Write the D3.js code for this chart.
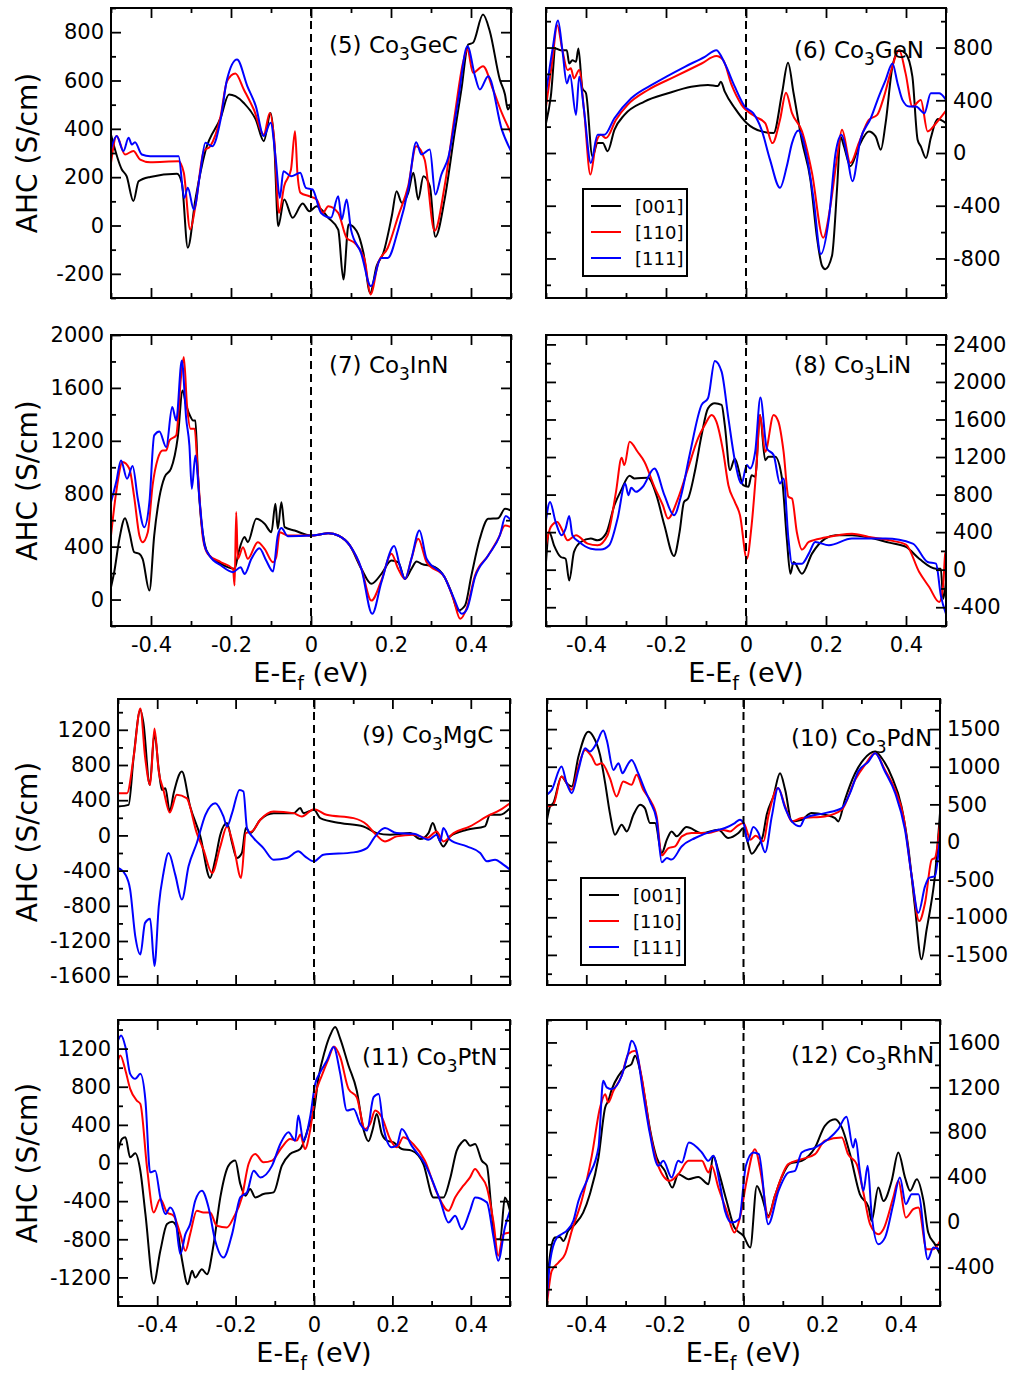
<!DOCTYPE html>
<html>
<head>
<meta charset="utf-8">
<script src="https://cdn.jsdelivr.net/npm/d3@7"></script>
<style>
  body { margin: 0; background: #fff; }
  svg text { font-family: "DejaVu Sans", "Liberation Sans", Arial, sans-serif; fill: #000; }
</style>
</head>
<body>
<svg id="chart" width="1021" height="1373"></svg>
<script>
(function(){

// ---- data: [E-Ef (eV), AHC (S/cm)] ----
const geC001 = [[-0.5,376],[-0.473,232],[-0.461,204],[-0.444,101],[-0.431,183],[-0.402,201],[-0.335,214],[-0.323,177],[-0.308,-92],[-0.289,108],[-0.264,308],[-0.226,445],[-0.205,542],[-0.189,535],[-0.168,507],[-0.138,438],[-0.118,349],[-0.101,466],[-0.092,342],[-0.082,-3],[-0.067,108],[-0.046,32],[-0.021,91],[-0.004,59],[0.014,80],[0.043,32],[0.068,-17],[0.081,-223],[0.094,4],[0.114,-23],[0.131,-113],[0.148,-279],[0.164,-168],[0.181,-113],[0.202,39],[0.214,142],[0.227,94],[0.243,135],[0.256,218],[0.268,108],[0.281,204],[0.297,163],[0.311,-47],[0.334,108],[0.359,383],[0.376,563],[0.393,749],[0.405,756],[0.43,873],[0.447,804],[0.472,604],[0.485,542],[0.492,480],[0.5,507]];
const geC110 = [[-0.5,259],[-0.486,370],[-0.465,294],[-0.444,308],[-0.427,273],[-0.402,262],[-0.331,266],[-0.318,218],[-0.302,-17],[-0.289,80],[-0.268,308],[-0.252,328],[-0.226,452],[-0.21,597],[-0.189,629],[-0.168,563],[-0.143,480],[-0.118,376],[-0.103,466],[-0.092,356],[-0.08,52],[-0.067,163],[-0.05,232],[-0.04,390],[-0.034,218],[-0.026,135],[-0.004,121],[0.014,108],[0.03,52],[0.043,80],[0.068,52],[0.089,-51],[0.109,-72],[0.134,-141],[0.149,-285],[0.168,-155],[0.192,-92],[0.218,39],[0.243,163],[0.263,328],[0.284,273],[0.309,-23],[0.334,163],[0.359,452],[0.38,673],[0.391,728],[0.405,632],[0.43,659],[0.455,563],[0.477,466],[0.5,383]];
const geC111 = [[-0.5,314],[-0.486,370],[-0.469,308],[-0.456,363],[-0.448,335],[-0.44,345],[-0.423,294],[-0.402,287],[-0.331,287],[-0.317,114],[-0.308,156],[-0.293,66],[-0.277,218],[-0.264,342],[-0.247,328],[-0.226,438],[-0.21,604],[-0.185,687],[-0.159,576],[-0.138,494],[-0.118,370],[-0.101,425],[-0.088,273],[-0.078,114],[-0.069,225],[-0.05,204],[-0.027,218],[-0.013,156],[0.004,149],[0.025,52],[0.05,32],[0.068,121],[0.077,25],[0.089,108],[0.1,-17],[0.125,-113],[0.15,-251],[0.175,-134],[0.192,-134],[0.218,-17],[0.243,149],[0.263,345],[0.276,294],[0.297,314],[0.311,128],[0.326,211],[0.343,280],[0.368,521],[0.391,742],[0.41,618],[0.422,563],[0.443,618],[0.477,397],[0.5,308]];

const geN001 = [[-0.5,226],[-0.488,428],[-0.476,793],[-0.463,780],[-0.448,780],[-0.442,679],[-0.434,704],[-0.425,692],[-0.419,793],[-0.409,491],[-0.4,453],[-0.384,-25],[-0.371,75],[-0.358,75],[-0.346,13],[-0.329,176],[-0.304,289],[-0.254,390],[-0.195,453],[-0.137,503],[-0.095,516],[-0.07,508],[-0.063,541],[-0.053,465],[-0.028,340],[0.002,226],[0.039,164],[0.069,151],[0.09,453],[0.105,684],[0.119,453],[0.14,88],[0.161,-201],[0.178,-654],[0.19,-855],[0.198,-881],[0.215,-780],[0.228,-252],[0.236,126],[0.245,50],[0.261,-101],[0.282,50],[0.307,164],[0.324,126],[0.337,25],[0.349,226],[0.366,654],[0.383,780],[0.399,755],[0.416,579],[0.429,101],[0.437,50],[0.45,-38],[0.462,113],[0.479,257],[0.5,226]];
const geN110 = [[-0.5,352],[-0.484,704],[-0.472,969],[-0.459,780],[-0.446,629],[-0.438,642],[-0.43,566],[-0.417,629],[-0.405,327],[-0.389,-164],[-0.375,75],[-0.363,138],[-0.35,113],[-0.325,252],[-0.296,365],[-0.245,478],[-0.178,579],[-0.111,679],[-0.074,735],[-0.057,704],[-0.036,516],[-0.011,365],[0.023,277],[0.048,226],[0.066,75],[0.085,252],[0.1,458],[0.115,302],[0.14,164],[0.165,-151],[0.193,-642],[0.211,-403],[0.228,-25],[0.24,176],[0.261,-75],[0.282,75],[0.307,252],[0.328,289],[0.345,428],[0.362,616],[0.383,780],[0.399,604],[0.416,352],[0.437,403],[0.454,164],[0.475,226],[0.5,322]];
const geN111 = [[-0.5,453],[-0.484,780],[-0.47,1006],[-0.459,780],[-0.448,528],[-0.44,591],[-0.425,289],[-0.417,579],[-0.405,327],[-0.388,-75],[-0.371,138],[-0.354,138],[-0.329,264],[-0.287,415],[-0.229,528],[-0.153,654],[-0.103,730],[-0.074,780],[-0.053,679],[-0.028,503],[-0.003,352],[0.018,302],[0.039,176],[0.06,-50],[0.085,-264],[0.102,-101],[0.115,75],[0.131,171],[0.152,-25],[0.169,-352],[0.187,-767],[0.207,-503],[0.224,0],[0.239,138],[0.253,-25],[0.266,-214],[0.286,101],[0.312,264],[0.332,428],[0.349,553],[0.366,679],[0.379,528],[0.391,403],[0.408,352],[0.425,352],[0.446,302],[0.462,453],[0.483,453],[0.5,403]];

const inN001 = [[-0.5,93],[-0.492,207],[-0.479,459],[-0.465,615],[-0.454,509],[-0.442,358],[-0.429,346],[-0.421,308],[-0.404,68],[-0.392,484],[-0.379,774],[-0.366,926],[-0.35,989],[-0.333,1228],[-0.321,1581],[-0.312,1468],[-0.301,1380],[-0.295,1354],[-0.289,1354],[-0.283,963],[-0.275,610],[-0.266,421],[-0.254,333],[-0.225,270],[-0.191,232],[-0.181,358],[-0.166,472],[-0.158,434],[-0.137,610],[-0.116,573],[-0.099,509],[-0.089,724],[-0.083,535],[-0.074,736],[-0.066,547],[-0.041,522],[0,484],[0.018,489],[0.043,502],[0.068,484],[0.097,409],[0.126,232],[0.151,119],[0.176,194],[0.201,295],[0.218,282],[0.235,156],[0.251,232],[0.264,288],[0.276,270],[0.31,245],[0.334,169],[0.351,55],[0.368,-83],[0.385,-45],[0.401,182],[0.422,459],[0.443,610],[0.468,615],[0.485,686],[0.5,673]];
const inN110 = [[-0.5,484],[-0.487,812],[-0.471,1039],[-0.454,989],[-0.442,774],[-0.429,484],[-0.421,434],[-0.408,509],[-0.396,863],[-0.383,1064],[-0.371,1127],[-0.362,1127],[-0.354,1203],[-0.337,1241],[-0.325,1682],[-0.318,1834],[-0.31,1468],[-0.301,1291],[-0.291,1291],[-0.283,963],[-0.27,459],[-0.258,346],[-0.225,282],[-0.195,232],[-0.191,106],[-0.187,661],[-0.183,308],[-0.17,396],[-0.158,308],[-0.133,434],[-0.116,383],[-0.095,282],[-0.087,320],[-0.078,509],[-0.058,484],[0,484],[0.018,489],[0.043,502],[0.068,484],[0.097,409],[0.126,232],[0.151,-8],[0.176,144],[0.201,346],[0.218,232],[0.235,156],[0.251,308],[0.268,459],[0.289,282],[0.334,169],[0.356,5],[0.373,-146],[0.39,-58],[0.41,182],[0.443,333],[0.468,459],[0.485,560],[0.5,547]];
const inN111 = [[-0.5,736],[-0.487,888],[-0.475,1052],[-0.46,913],[-0.446,1009],[-0.433,762],[-0.417,547],[-0.404,736],[-0.392,1241],[-0.379,1271],[-0.362,1153],[-0.347,1455],[-0.337,1354],[-0.323,1808],[-0.312,1367],[-0.304,1165],[-0.298,837],[-0.289,1089],[-0.279,762],[-0.266,409],[-0.254,333],[-0.225,257],[-0.195,207],[-0.176,245],[-0.166,194],[-0.149,308],[-0.129,388],[-0.112,295],[-0.095,212],[-0.083,484],[-0.074,540],[-0.058,479],[0,484],[0.018,489],[0.043,502],[0.068,484],[0.097,409],[0.126,232],[0.153,-108],[0.176,131],[0.208,404],[0.222,257],[0.235,156],[0.251,308],[0.271,522],[0.289,308],[0.334,169],[0.356,18],[0.377,-108],[0.39,-71],[0.41,169],[0.443,333],[0.472,484],[0.487,631],[0.5,598]];

const liN001 = [[-0.5,82],[-0.492,402],[-0.48,260],[-0.463,135],[-0.451,117],[-0.442,-114],[-0.43,189],[-0.413,295],[-0.388,331],[-0.371,313],[-0.35,384],[-0.329,687],[-0.312,847],[-0.291,1000],[-0.279,972],[-0.245,979],[-0.224,794],[-0.204,473],[-0.18,146],[-0.166,402],[-0.155,722],[-0.145,758],[-0.128,1043],[-0.111,1434],[-0.095,1719],[-0.078,1772],[-0.061,1755],[-0.053,1541],[-0.04,1061],[-0.028,1185],[-0.007,900],[0.006,883],[0.014,1007],[0.023,989],[0.035,1648],[0.048,1167],[0.056,1203],[0.073,1203],[0.09,972],[0.102,331],[0.111,-43],[0.119,82],[0.14,-43],[0.165,171],[0.198,331],[0.224,367],[0.265,367],[0.307,342],[0.358,288],[0.4,242],[0.433,117],[0.475,11],[0.487,11],[0.493,-310],[0.5,-132]];
const liN110 = [[-0.5,260],[-0.488,456],[-0.472,509],[-0.459,420],[-0.446,313],[-0.425,367],[-0.396,278],[-0.371,260],[-0.346,367],[-0.325,829],[-0.311,1192],[-0.304,1114],[-0.291,1363],[-0.271,1256],[-0.254,1150],[-0.229,883],[-0.208,687],[-0.195,545],[-0.17,758],[-0.145,1078],[-0.12,1399],[-0.103,1541],[-0.086,1648],[-0.074,1577],[-0.057,1256],[-0.044,900],[-0.028,722],[-0.015,580],[0.002,117],[0.014,473],[0.027,1150],[0.035,1648],[0.048,1256],[0.069,1648],[0.081,1577],[0.094,1256],[0.106,776],[0.115,758],[0.127,402],[0.14,214],[0.157,295],[0.198,342],[0.265,384],[0.307,349],[0.358,313],[0.4,267],[0.433,-25],[0.458,-185],[0.483,-345],[0.493,-167],[0.498,171],[0.5,189]];
const liN111 = [[-0.5,527],[-0.49,722],[-0.476,509],[-0.461,367],[-0.451,438],[-0.442,573],[-0.434,367],[-0.417,295],[-0.388,224],[-0.363,214],[-0.342,260],[-0.321,545],[-0.302,918],[-0.294,794],[-0.287,872],[-0.275,829],[-0.258,883],[-0.229,1078],[-0.204,794],[-0.18,580],[-0.162,794],[-0.141,1221],[-0.111,1755],[-0.095,1826],[-0.078,2224],[-0.061,2110],[-0.044,1612],[-0.028,1167],[-0.011,918],[0.002,1114],[0.01,1078],[0.023,1256],[0.036,1833],[0.052,1292],[0.069,1221],[0.085,918],[0.094,972],[0.106,331],[0.115,64],[0.14,64],[0.157,171],[0.173,295],[0.207,260],[0.265,331],[0.349,331],[0.417,278],[0.454,82],[0.475,64],[0.487,-274],[0.5,-470]];

const mgC001 = [[-0.5,329],[-0.473,347],[-0.46,895],[-0.443,1424],[-0.435,1273],[-0.419,574],[-0.407,1160],[-0.396,744],[-0.388,517],[-0.379,536],[-0.368,272],[-0.358,480],[-0.337,725],[-0.316,329],[-0.29,-11],[-0.265,-483],[-0.252,-276],[-0.239,8],[-0.222,140],[-0.209,-87],[-0.197,-257],[-0.184,-200],[-0.174,83],[-0.163,26],[-0.137,178],[-0.103,253],[-0.052,253],[-0.035,310],[-0.027,253],[0,291],[0.016,196],[0.067,140],[0.126,102],[0.16,26],[0.194,8],[0.245,26],[0.271,-42],[0.292,26],[0.303,140],[0.313,26],[0.33,-125],[0.347,-11],[0.39,64],[0.436,102],[0.449,234],[0.475,234],[0.5,310]];
const mgC110 = [[-0.5,480],[-0.477,480],[-0.46,895],[-0.443,1443],[-0.431,895],[-0.418,574],[-0.407,1216],[-0.396,725],[-0.384,517],[-0.368,261],[-0.35,461],[-0.325,423],[-0.299,26],[-0.282,-162],[-0.26,-427],[-0.239,-125],[-0.222,102],[-0.205,-125],[-0.186,-483],[-0.174,26],[-0.158,45],[-0.137,178],[-0.103,272],[-0.052,253],[-0.031,215],[0,298],[0.032,234],[0.101,196],[0.135,121],[0.156,19],[0.181,-68],[0.211,-11],[0.254,8],[0.288,-30],[0.313,45],[0.33,-68],[0.356,26],[0.398,102],[0.441,215],[0.475,291],[0.5,366]];
const mgC111 = [[-0.5,-370],[-0.481,-446],[-0.469,-616],[-0.456,-1144],[-0.443,-1352],[-0.431,-994],[-0.418,-948],[-0.407,-1484],[-0.396,-805],[-0.384,-427],[-0.371,-200],[-0.354,-446],[-0.337,-729],[-0.32,-351],[-0.299,-87],[-0.277,234],[-0.252,366],[-0.231,215],[-0.222,102],[-0.209,253],[-0.19,517],[-0.18,499],[-0.171,83],[-0.154,-30],[-0.129,-144],[-0.103,-276],[-0.069,-257],[-0.04,-181],[-0.023,-238],[0,-295],[0.024,-219],[0.101,-193],[0.135,-144],[0.156,-11],[0.181,83],[0.211,26],[0.254,19],[0.292,-49],[0.313,8],[0.322,-68],[0.33,83],[0.347,-49],[0.39,-125],[0.424,-200],[0.441,-295],[0.462,-276],[0.483,-332],[0.5,-389]];

const pdN001 = [[-0.5,296],[-0.492,473],[-0.484,517],[-0.463,870],[-0.45,782],[-0.437,738],[-0.42,1135],[-0.395,1466],[-0.382,1400],[-0.365,1157],[-0.352,782],[-0.34,384],[-0.327,97],[-0.31,230],[-0.297,141],[-0.28,362],[-0.263,495],[-0.251,451],[-0.238,252],[-0.225,252],[-0.208,-146],[-0.195,31],[-0.183,141],[-0.17,75],[-0.145,199],[-0.106,119],[-0.064,163],[-0.039,53],[-0.013,119],[0,186],[0.01,9],[0.021,-155],[0.036,-57],[0.049,75],[0.059,362],[0.076,605],[0.093,914],[0.106,693],[0.123,274],[0.148,296],[0.173,384],[0.207,362],[0.233,318],[0.241,274],[0.258,561],[0.284,914],[0.305,1091],[0.335,1201],[0.352,1113],[0.377,870],[0.402,473],[0.419,-57],[0.436,-852],[0.453,-1559],[0.466,-1162],[0.475,-897],[0.487,-455],[0.5,384]];
const pdN110 = [[-0.5,473],[-0.484,495],[-0.463,870],[-0.437,693],[-0.42,1003],[-0.403,1224],[-0.386,1135],[-0.374,1025],[-0.361,1047],[-0.34,848],[-0.323,605],[-0.306,804],[-0.285,760],[-0.272,892],[-0.255,693],[-0.238,561],[-0.221,340],[-0.208,-177],[-0.191,-80],[-0.174,-57],[-0.157,75],[-0.132,119],[-0.089,119],[-0.056,163],[-0.034,141],[-0.017,208],[0,252],[0.018,31],[0.031,84],[0.051,9],[0.063,340],[0.088,716],[0.106,473],[0.123,274],[0.148,318],[0.207,340],[0.25,428],[0.284,826],[0.309,1025],[0.335,1179],[0.36,958],[0.386,693],[0.407,340],[0.428,-455],[0.447,-1051],[0.462,-808],[0.479,-234],[0.487,-212],[0.5,252]];
const pdN111 = [[-0.5,627],[-0.488,693],[-0.463,1003],[-0.45,782],[-0.437,649],[-0.42,958],[-0.403,1246],[-0.391,1201],[-0.374,1312],[-0.357,1480],[-0.348,1356],[-0.331,958],[-0.318,1047],[-0.308,914],[-0.295,1025],[-0.285,1091],[-0.268,914],[-0.251,693],[-0.238,539],[-0.221,296],[-0.208,-269],[-0.195,-212],[-0.183,-234],[-0.157,-57],[-0.123,53],[-0.081,141],[-0.047,186],[-0.022,252],[-0.009,296],[0,252],[0.011,9],[0.025,199],[0.038,119],[0.055,-137],[0.072,340],[0.088,716],[0.106,451],[0.123,274],[0.144,208],[0.156,318],[0.207,384],[0.25,451],[0.271,649],[0.292,936],[0.318,1069],[0.335,1179],[0.36,936],[0.386,649],[0.411,163],[0.428,-455],[0.445,-941],[0.462,-587],[0.472,-477],[0.487,-455],[0.5,75]];

const ptN001 = [[-0.5,130],[-0.49,252],[-0.481,270],[-0.469,60],[-0.456,102],[-0.443,-81],[-0.43,-536],[-0.409,-1265],[-0.392,-921],[-0.375,-641],[-0.362,-617],[-0.35,-676],[-0.337,-1009],[-0.322,-1272],[-0.311,-1131],[-0.303,-1202],[-0.286,-1114],[-0.273,-1167],[-0.256,-851],[-0.239,-361],[-0.218,-28],[-0.201,25],[-0.188,-221],[-0.175,-343],[-0.163,-273],[-0.15,-361],[-0.129,-326],[-0.103,-308],[-0.082,-28],[-0.061,95],[-0.035,147],[-0.014,375],[0,550],[0.011,883],[0.028,1181],[0.041,1338],[0.054,1426],[0.067,1303],[0.088,1023],[0.109,760],[0.126,357],[0.139,228],[0.15,357],[0.16,515],[0.173,305],[0.186,235],[0.203,217],[0.224,147],[0.249,130],[0.279,-11],[0.305,-361],[0.33,-361],[0.347,-168],[0.364,130],[0.377,217],[0.385,242],[0.398,182],[0.411,200],[0.428,25],[0.441,-28],[0.453,-501],[0.462,-800],[0.475,-800],[0.487,-361],[0.5,-500]];
const ptN110 = [[-0.5,1075],[-0.494,1128],[-0.481,970],[-0.469,778],[-0.452,655],[-0.443,620],[-0.426,-46],[-0.409,-518],[-0.392,-378],[-0.375,-518],[-0.358,-553],[-0.341,-746],[-0.328,-921],[-0.316,-746],[-0.299,-501],[-0.282,-518],[-0.265,-518],[-0.248,-659],[-0.222,-676],[-0.205,-571],[-0.184,-361],[-0.167,-11],[-0.15,95],[-0.129,7],[-0.107,25],[-0.082,165],[-0.061,252],[-0.044,235],[-0.035,298],[-0.023,147],[-0.01,340],[0.003,708],[0.02,918],[0.037,1093],[0.051,1223],[0.067,1110],[0.088,778],[0.109,690],[0.13,357],[0.143,410],[0.156,550],[0.173,480],[0.194,252],[0.211,165],[0.228,270],[0.253,200],[0.283,25],[0.313,-308],[0.343,-501],[0.36,-361],[0.381,-238],[0.398,-151],[0.411,-63],[0.424,-133],[0.441,-256],[0.458,-624],[0.47,-974],[0.483,-746],[0.5,-729]];
const ptN111 = [[-0.5,1286],[-0.492,1338],[-0.481,1216],[-0.469,935],[-0.456,883],[-0.443,935],[-0.43,655],[-0.418,-98],[-0.405,-81],[-0.392,-361],[-0.379,-536],[-0.367,-466],[-0.354,-571],[-0.341,-956],[-0.328,-746],[-0.316,-641],[-0.303,-396],[-0.286,-291],[-0.269,-466],[-0.252,-816],[-0.231,-991],[-0.209,-746],[-0.188,-361],[-0.171,-308],[-0.154,-81],[-0.137,-151],[-0.107,-28],[-0.086,200],[-0.065,322],[-0.048,235],[-0.04,497],[-0.027,235],[-0.01,480],[0.003,830],[0.016,953],[0.033,1075],[0.05,1216],[0.067,935],[0.084,550],[0.101,567],[0.118,410],[0.135,340],[0.152,690],[0.165,725],[0.177,375],[0.198,165],[0.211,182],[0.224,357],[0.249,182],[0.283,-11],[0.322,-396],[0.343,-624],[0.36,-553],[0.377,-694],[0.398,-501],[0.411,-361],[0.441,-413],[0.458,-781],[0.47,-1026],[0.487,-676],[0.5,-501]];

const rhN001 = [[-0.5,-586],[-0.492,-288],[-0.48,-140],[-0.467,-134],[-0.458,-170],[-0.446,-80],[-0.429,-21],[-0.408,83],[-0.391,247],[-0.369,574],[-0.352,1020],[-0.344,1080],[-0.335,1184],[-0.318,1303],[-0.3,1377],[-0.285,1407],[-0.276,1481],[-0.263,1347],[-0.251,1109],[-0.238,827],[-0.221,574],[-0.2,455],[-0.181,306],[-0.166,425],[-0.14,381],[-0.115,401],[-0.089,336],[-0.077,589],[-0.064,455],[-0.043,187],[-0.023,-51],[0,-125],[0.017,-229],[0.034,321],[0.046,232],[0.063,54],[0.08,232],[0.097,396],[0.118,520],[0.148,544],[0.182,663],[0.207,857],[0.233,916],[0.25,842],[0.271,604],[0.296,247],[0.318,134],[0.326,9],[0.343,306],[0.356,187],[0.377,366],[0.394,619],[0.411,396],[0.424,277],[0.441,381],[0.458,187],[0.47,-95],[0.487,-199],[0.5,-288]];
const rhN110 = [[-0.5,-735],[-0.488,-437],[-0.471,-363],[-0.454,-288],[-0.437,-80],[-0.412,187],[-0.386,589],[-0.365,1020],[-0.352,1139],[-0.344,1065],[-0.331,1169],[-0.31,1303],[-0.293,1496],[-0.276,1526],[-0.259,1288],[-0.238,812],[-0.217,500],[-0.187,366],[-0.166,425],[-0.14,544],[-0.106,544],[-0.089,440],[-0.081,500],[-0.064,306],[-0.043,98],[-0.023,-95],[-0.009,39],[0.008,366],[0.029,648],[0.046,396],[0.063,39],[0.08,232],[0.114,515],[0.148,559],[0.182,604],[0.207,723],[0.25,752],[0.266,604],[0.288,515],[0.305,262],[0.322,-21],[0.343,-110],[0.356,-65],[0.381,217],[0.394,366],[0.413,39],[0.432,113],[0.445,128],[0.466,-244],[0.483,-244],[0.5,-170]];
const rhN111 = [[-0.5,-675],[-0.492,-348],[-0.475,-140],[-0.463,-110],[-0.45,-80],[-0.433,9],[-0.42,187],[-0.395,396],[-0.369,663],[-0.357,1258],[-0.348,1199],[-0.335,1184],[-0.31,1303],[-0.293,1511],[-0.285,1615],[-0.272,1526],[-0.255,1139],[-0.238,782],[-0.217,500],[-0.204,544],[-0.183,396],[-0.166,544],[-0.157,529],[-0.139,708],[-0.106,619],[-0.089,544],[-0.077,589],[-0.06,336],[-0.047,98],[-0.03,-6],[-0.011,24],[0.006,500],[0.025,619],[0.039,604],[0.063,-21],[0.089,277],[0.114,440],[0.131,455],[0.148,619],[0.182,663],[0.216,738],[0.241,827],[0.262,937],[0.279,663],[0.285,738],[0.296,455],[0.305,277],[0.316,500],[0.326,68],[0.343,-199],[0.36,-140],[0.381,158],[0.398,396],[0.413,158],[0.428,247],[0.445,247],[0.469,-333],[0.483,-229],[0.5,-244]];

// tick labels
const xTicks = [-0.4, -0.2, 0, 0.2, 0.4];
const xMinor = [-0.5, -0.3, -0.1, 0.1, 0.3, 0.5];
const ticks5 = [-200, 0, 200, 400, 600, 800];
const ticks6 = [-800, -400, 0, 400, 800];
const ticks7 = [0, 400, 800, 1200, 1600, 2000];
const ticks8 = [-400, 0, 400, 800, 1200, 1600, 2000, 2400];
const ticks9 = [-1600, -1200, -800, -400, 0, 400, 800, 1200];
const ticks10 = [-1500, -1000, -500, 0, 500, 1000, 1500];
const ticks11 = [-1200, -800, -400, 0, 400, 800, 1200];
const ticks12 = [-400, 0, 400, 800, 1200, 1600];

const seriesNames = ["[001]", "[110]", "[111]"];
const seriesColors = ["#000000", "#ff0000", "#0000ff"];

// panel layout
const panels = [
  { num: "(5)", el: "GeC", curves: [geC001, geC110, geC111], box: [111, 8, 511, 298],   yDom: [-300, 900],   yTicks: ticks5,  side: "left",  xLab: false, tx: 329, ty: 53 },
  { num: "(6)", el: "GeN", curves: [geN001, geN110, geN111], box: [546, 8, 946, 298],   yDom: [-1100, 1100], yTicks: ticks6,  side: "right", xLab: false, tx: 794, ty: 58, legend: [583, 189] },
  { num: "(7)", el: "InN", curves: [inN001, inN110, inN111], box: [111, 335, 511, 626], yDom: [-200, 2000],  yTicks: ticks7,  side: "left",  xLab: true,  tx: 329, ty: 373 },
  { num: "(8)", el: "LiN", curves: [liN001, liN110, liN111], box: [546, 335, 946, 626], yDom: [-600, 2500],  yTicks: ticks8,  side: "right", xLab: true,  tx: 794, ty: 373 },
  { num: "(9)", el: "MgC", curves: [mgC001, mgC110, mgC111], box: [118, 699, 510, 985], yDom: [-1700, 1550], yTicks: ticks9,  side: "left",  xLab: false, tx: 362, ty: 743 },
  { num: "(10)", el: "PdN", curves: [pdN001, pdN110, pdN111], box: [547, 699, 940, 985], yDom: [-1900, 1900], yTicks: ticks10, side: "right", xLab: false, tx: 791, ty: 746, legend: [581, 878] },
  { num: "(11)", el: "PtN", curves: [ptN001, ptN110, ptN111], box: [118, 1020, 510, 1306], yDom: [-1500, 1500], yTicks: ticks11, side: "left",  xLab: true,  tx: 362, ty: 1065 },
  { num: "(12)", el: "RhN", curves: [rhN001, rhN110, rhN111], box: [547, 1020, 940, 1306], yDom: [-750, 1800],  yTicks: ticks12, side: "right", xLab: true,  tx: 791, ty: 1063 }
];

const svg = d3.select("#chart");
const FONT = '"DejaVu Sans", "Liberation Sans", Arial, sans-serif';
const MAJ = 10, MIN = 5;

function styleAxis(g) {
  g.select(".domain").remove();
  g.selectAll(".tick line").attr("stroke", "#000").attr("stroke-width", 1.8);
  g.attr("font-family", FONT).attr("font-size", 21);
  g.selectAll(".tick text").attr("fill", "#000");
}

const fmtX = d => d === 0 ? "0" : d.toFixed(1);

panels.forEach((p, i) => {
  const [x0, y0, x1, y1] = p.box;
  const x = d3.scaleLinear().domain([-0.5, 0.5]).range([x0, x1]);
  const y = d3.scaleLinear().domain(p.yDom).range([y1, y0]);
  const g = svg.append("g");

  const step = p.yTicks[1] - p.yTicks[0];
  const half = step / 2;
  const yMinor = d3.range(Math.ceil(p.yDom[0] / half) * half, p.yDom[1] + 1e-9, half)
    .filter(v => !p.yTicks.some(t => Math.abs(t - v) < 1e-6));

  // curves
  const clipId = "clip" + i;
  svg.append("clipPath").attr("id", clipId)
    .append("rect").attr("x", x0).attr("y", y0).attr("width", x1 - x0).attr("height", y1 - y0);

  const line = d3.line().curve(d3.curveMonotoneX).x(d => x(d[0])).y(d => y(d[1]));
  p.curves.forEach((c, k) => {
    g.append("path")
      .attr("d", line(c))
      .attr("fill", "none")
      .attr("stroke", seriesColors[k])
      .attr("stroke-width", 2)
      .attr("stroke-linejoin", "round")
      .attr("clip-path", `url(#${clipId})`);
  });

  // zero line
  g.append("line")
    .attr("x1", x(0)).attr("x2", x(0))
    .attr("y1", y0).attr("y2", y1)
    .attr("stroke", "#000").attr("stroke-width", 2)
    .attr("stroke-dasharray", "8,5");

  // y axes
  const left = p.side === "left";
  const labelX = left ? x0 : x1;
  const mirrorX = left ? x1 : x0;
  const axLab = () => left ? d3.axisLeft(y) : d3.axisRight(y);
  const axMir = () => left ? d3.axisRight(y) : d3.axisLeft(y);

  g.append("g").attr("transform", `translate(${labelX},0)`)
    .call(axLab().tickValues(p.yTicks).tickSize(-MAJ).tickPadding(7).tickFormat(d => String(d)))
    .call(styleAxis);
  g.append("g").attr("transform", `translate(${labelX},0)`)
    .call(axLab().tickValues(yMinor).tickSize(-MIN).tickFormat(""))
    .call(styleAxis);
  g.append("g").attr("transform", `translate(${mirrorX},0)`)
    .call(axMir().tickValues(p.yTicks).tickSize(-MAJ).tickFormat(""))
    .call(styleAxis);
  g.append("g").attr("transform", `translate(${mirrorX},0)`)
    .call(axMir().tickValues(yMinor).tickSize(-MIN).tickFormat(""))
    .call(styleAxis);

  // x axes
  g.append("g").attr("transform", `translate(0,${y1})`)
    .call(d3.axisBottom(x).tickValues(xTicks).tickSize(-MAJ).tickPadding(11).tickFormat(p.xLab ? fmtX : ""))
    .call(styleAxis);
  g.append("g").attr("transform", `translate(0,${y1})`)
    .call(d3.axisBottom(x).tickValues(xMinor).tickSize(-MIN).tickFormat(""))
    .call(styleAxis);
  g.append("g").attr("transform", `translate(0,${y0})`)
    .call(d3.axisTop(x).tickValues(xTicks).tickSize(-MAJ).tickFormat(""))
    .call(styleAxis);
  g.append("g").attr("transform", `translate(0,${y0})`)
    .call(d3.axisTop(x).tickValues(xMinor).tickSize(-MIN).tickFormat(""))
    .call(styleAxis);

  // frame
  g.append("rect")
    .attr("x", x0).attr("y", y0).attr("width", x1 - x0).attr("height", y1 - y0)
    .attr("fill", "none").attr("stroke", "#000").attr("stroke-width", 2);

  // panel title
  const t = g.append("text").attr("x", p.tx).attr("y", p.ty).attr("font-size", 23);
  t.append("tspan").text(p.num + " Co");
  t.append("tspan").attr("dy", 7).attr("font-size", 17).text("3");
  t.append("tspan").attr("dy", -7).text(p.el);

  // y title
  if (left) {
    g.append("text")
      .attr("transform", `translate(37,${(y0 + y1) / 2}) rotate(-90)`)
      .attr("text-anchor", "middle")
      .attr("font-size", 28)
      .text("AHC (S/cm)");
  }

  // x title
  if (p.xLab) {
    const xt = g.append("text")
      .attr("x", x(0)).attr("y", y1 + 56)
      .attr("text-anchor", "middle")
      .attr("font-size", 27);
    xt.append("tspan").text("E-E");
    xt.append("tspan").attr("dy", 8).attr("font-size", 19).text("f");
    xt.append("tspan").attr("dy", -8).text(" (eV)");
  }

  // legend
  if (p.legend) {
    const [lx, ly] = p.legend;
    const lg = g.append("g");
    lg.append("rect").attr("x", lx).attr("y", ly).attr("width", 104).attr("height", 87)
      .attr("fill", "#fff").attr("stroke", "#000").attr("stroke-width", 2);
    seriesNames.forEach((name, k) => {
      const yy = ly + 17 + k * 26;
      lg.append("line").attr("x1", lx + 8).attr("x2", lx + 38).attr("y1", yy).attr("y2", yy)
        .attr("stroke", seriesColors[k]).attr("stroke-width", 2);
      lg.append("text").attr("x", lx + 52).attr("y", yy + 7).attr("font-size", 18).text(name);
    });
  }
});

})();
</script>
</body>
</html>
